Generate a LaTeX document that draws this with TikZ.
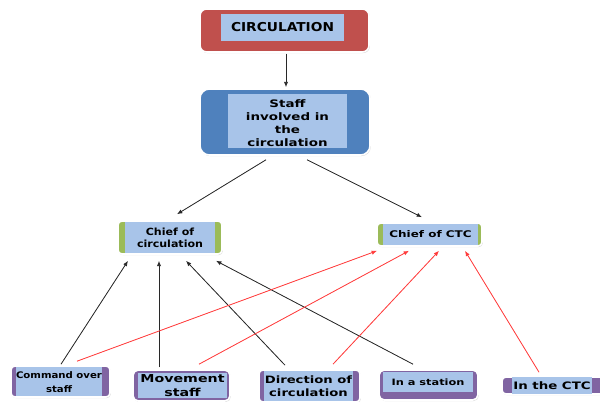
\documentclass[tikz,border=0pt]{standalone}
\usepackage{fontspec}
\setmainfont{DejaVu Sans}
\newfontfamily\widefont[FakeStretch=1.3]{DejaVu Sans}
\newfontfamily\midfont[FakeStretch=1.12]{DejaVu Sans}
\usetikzlibrary{calc,shadows,arrows.meta}

\definecolor{redbox}{RGB}{192,80,77}
\definecolor{bluebox}{RGB}{79,129,189}
\definecolor{greenbox}{RGB}{155,187,89}
\definecolor{purplebox}{RGB}{128,100,162}
\definecolor{paleblue}{RGB}{168,196,233}
\definecolor{redline}{RGB}{255,60,60}
\definecolor{blackline}{RGB}{40,40,40}

\begin{document}
\begin{tikzpicture}[x=0.75pt,y=0.75pt,yscale=-1,xscale=1,
  outerbox/.style={draw=white, line width=1.2pt, rounded corners=3pt, inner sep=0pt,
    drop shadow={opacity=0.3, shadow xshift=0.6pt, shadow yshift=-0.8pt}},
  innerbox/.style={fill=paleblue, inner sep=0pt, align=center},
  uparrow/.style={-{Latex[length=4pt,width=3.2pt]}, line width=0.6pt},
  blackarrow/.style={uparrow, draw=blackline, fill=blackline},
  redarrow/.style={uparrow, draw=redline, fill=redline}]
\clip (0,0) rectangle (600,402);
\fill[white] (0,0) rectangle (600,402);

% Shape: CIRCULATION
\node[outerbox, fill=redbox, rounded corners=5pt, minimum width=126.75pt, minimum height=32.25pt] (circ) at (284.5,30.5) {};
\node[innerbox, minimum width=92.25pt, minimum height=20.25pt, font=\midfont\bfseries\fontsize{9.2}{11}\selectfont] (circ-t) at (282.5,27.5) {CIRCULATION};

% Shape: Staff involved
\node[outerbox, fill=bluebox, rounded corners=7pt, minimum width=127.5pt, minimum height=49.5pt] (staff) at (285,122) {};
\node[innerbox, minimum width=89.25pt, minimum height=40.5pt] (staff-t) at (287.5,121) {};
% Text Node
\node[align=center, inner sep=0pt, font=\widefont\bfseries\fontsize{7.75}{9.75}\selectfont] (staff-l) at (287.5,123) {Staff\\involved in\\the\\circulation};

% Shape: Chief of circulation
\node[outerbox, fill=greenbox, minimum width=78pt, minimum height=24.75pt] (chiefc) at (170,237.5) {};
\node[innerbox, minimum width=67.5pt, minimum height=23.25pt, font=\midfont\bfseries\fontsize{7.4}{8.8}\selectfont] (chiefc-t) at (170,237.5) {Chief of\\circulation};

% Shape: Chief of CTC
\node[outerbox, fill=greenbox, minimum width=78.75pt, minimum height=17.25pt] (chiefctc) at (429.5,234.5) {};
\node[innerbox, minimum width=71.25pt, minimum height=15.75pt, font=\widefont\bfseries\fontsize{6.9}{8}\selectfont] (chiefctc-t) at (430.5,234.5) {Chief of CTC};

% Shape: Command over staff
\node[outerbox, fill=purplebox, minimum width=74.25pt, minimum height=23.25pt] (cmd) at (60.5,381.5) {};
\node[innerbox, minimum width=64.5pt, minimum height=21.75pt, font=\midfont\bfseries\fontsize{6.8}{10}\selectfont] (cmd-t) at (59,382) {Command over\\staff};

% Shape: Movement staff
\node[outerbox, fill=purplebox, rounded corners=4pt, minimum width=72.75pt, minimum height=23.25pt] (move) at (181.5,385.5) {};
\node[innerbox, minimum width=66.75pt, minimum height=18.75pt, font=\widefont\bfseries\fontsize{8.2}{10.5}\selectfont] (move-t) at (182.5,385.5) {Movement\\staff};

% Shape: Direction of circulation
\node[outerbox, fill=purplebox, minimum width=75.75pt, minimum height=24pt] (dir) at (309.5,386) {};
\node[innerbox, minimum width=66.75pt, minimum height=22.5pt, font=\widefont\bfseries\fontsize{7.6}{10}\selectfont] (dir-t) at (308.5,386) {Direction of\\circulation};

% Shape: In a station
\node[outerbox, fill=purplebox, rounded corners=4pt, minimum width=74.25pt, minimum height=22.5pt] (station) at (428.5,385) {};
\node[innerbox, minimum width=67.5pt, minimum height=15pt, font=\widefont\bfseries\fontsize{6.55}{8}\selectfont] (station-t) at (428,382.5) {In a station};

% Shape: In the CTC
\node[outerbox, fill=purplebox, minimum width=76.5pt, minimum height=12.75pt] (ctc) at (553,385.5) {};
\node[innerbox, minimum width=60pt, minimum height=12.75pt, font=\widefont\bfseries\fontsize{7.7}{9}\selectfont] (ctc-t) at (552,385.5) {In the CTC};

% Connectors from the top
\draw[blackarrow] ($(circ.south)+(1.5,1)$) -- ($(staff.north)+(1,-1)$);
\draw[blackarrow] ($(staff.south)+(-19,4)$) -- ($(chiefc.north)+(7,-6)$);
\draw[blackarrow] ($(staff.south)+(22,4)$) -- ($(chiefctc.north)+(-7.5,-5)$);

% Black lines to Chief of circulation
\draw[blackarrow] ($(cmd.north)+(0.5,-1)$) -- ($(chiefc.south)+(-42,6)$);
\draw[blackarrow] ($(move.north)+(-22.5,-2)$) -- ($(chiefc.south)+(-11,6)$);
\draw[blackarrow] ($(dir.north)+(-24.5,-4)$) -- ($(chiefc.south)+(16,6)$);
\draw[blackarrow] ($(station.north)+(-15.5,-5)$) -- ($(chiefc.south)+(46,6)$);

% Red lines to Chief of CTC
\draw[redarrow] ($(cmd.north)+(16.5,-4)$) -- ($(chiefctc.south)+(-52.5,4)$);
\draw[redarrow] ($(move.north)+(17.5,-5)$) -- ($(chiefctc.south)+(-20.5,4)$);
\draw[redarrow] ($(dir.north)+(23.5,-5)$) -- ($(chiefctc.south)+(9.5,4)$);
\draw[redarrow] ($(ctc.north)+(-14,-4)$) -- ($(chiefctc.south)+(35.5,4)$);

\end{tikzpicture}
\end{document}
